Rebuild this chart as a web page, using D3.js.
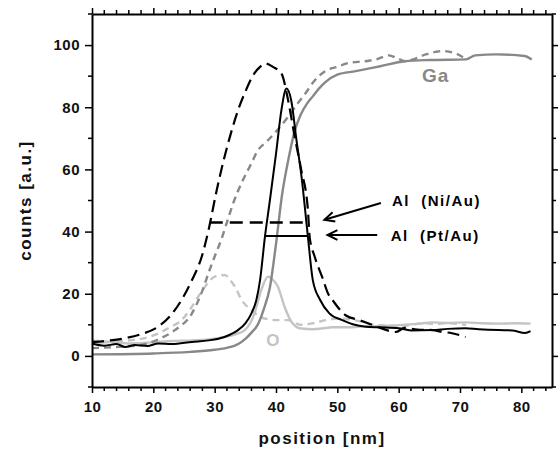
<!DOCTYPE html>
<html>
<head>
<meta charset="utf-8">
<script src="https://cdn.jsdelivr.net/npm/d3@7"></script>
<style>
  body { margin: 0; background: #fff; }
  text { font-family: "Liberation Sans", Arial, sans-serif; font-weight: bold; }
</style>
</head>
<body>
<div id="chart"></div>
<script>
// Data (position in nm, counts in a.u.)
var posGaPt = [10, 20, 26, 30, 32, 34, 35, 36, 37, 38, 39, 40, 41, 42, 43, 44, 45, 46, 47, 48, 50, 53, 57, 61, 65, 71, 72.5, 76, 80.5, 81.7];
var gaPt = [0.5, 0.8, 1.3, 2, 2.6, 4, 5.5, 7.5, 10, 15, 22, 36, 52, 63, 72, 77.5, 81, 83.5, 86, 88, 90.5, 91.6, 93.2, 94.8, 95.2, 95.4, 96.7, 97, 96.5, 95.4];

var posGaNi = [10, 15, 18, 21, 23.5, 26.3, 28, 29, 30, 31, 32, 33, 34.4, 36, 37, 38.5, 40.3, 42, 43.6, 45, 46, 48, 50, 52, 54.6, 56.5, 58.4, 60, 61.1, 62.5, 64.4, 66, 67.1, 69.3, 70.9];
var gaNi = [2.5, 3, 3.5, 5.5, 8.3, 13.7, 21, 26.7, 32, 37, 43, 49, 55.7, 62, 66, 69, 72.8, 77, 81.4, 85, 87.9, 91.6, 93, 94.3, 94.8, 95.5, 96.7, 95.5, 94.8, 95.5, 97, 97.8, 98.1, 97.3, 95.6];

var posAlNi = [10, 13, 15.4, 18, 20.8, 23.5, 26.3, 27.9, 29, 30.3, 31.6, 32.7, 33.8, 35, 36.5, 37.4, 38.2, 39.5, 40.9, 42, 43, 44.1, 45.2, 45.5, 46.3, 47.6, 48.5, 49.2, 51.4, 53.6, 55, 57, 59.5, 61, 63, 65.5, 67, 68.7, 70.9];
var alNi = [4.5, 5, 5.7, 7, 9.4, 14.7, 24.4, 32, 40.5, 53, 64, 72, 79, 85, 91, 93, 94.1, 93, 90.8, 82, 71, 60, 47, 38, 32, 25, 20, 18, 13, 11.5, 10.5, 9, 7.7, 9, 8.5, 8.3, 7.8, 7.3, 6.1];

var posAlPt = [10, 12, 14, 15.4, 17, 19, 20.8, 23, 26.3, 29, 31.6, 33, 33.8, 35, 36, 36.8, 37.4, 38.2, 39, 40, 40.9, 41.7, 42.5, 43.3, 44.2, 45.2, 46, 47.2, 48.7, 50.8, 52.5, 54.6, 57, 60, 62, 65.5, 68, 70.9, 73, 76.3, 78.5, 80.6, 81.5];
var alPt = [4, 3.3, 3.8, 2.9, 3.5, 3.2, 4, 3.8, 4.5, 5, 6.1, 7.3, 8.3, 10.5, 13.7, 18, 24.4, 38.4, 50, 65, 79.3, 86, 82, 70, 57, 38.4, 24.4, 18, 13.7, 11.5, 10.2, 9.4, 9.2, 8.9, 8.2, 8.3, 8.7, 8.9, 8.6, 8.3, 8.2, 7.4, 8];

var posOPt = [10, 13, 16, 20.8, 23, 26.3, 29, 31.6, 33.5, 34.9, 35.8, 36.5, 37.6, 38.7, 39.5, 40.3, 41.4, 42.5, 44.1, 46, 47.4, 49.2, 52, 54.6, 57, 60, 63, 65.5, 68, 70.9, 73.5, 76.3, 79, 81.5];
var oPt = [4, 4.5, 4, 4.5, 4.8, 5, 5.3, 6.1, 7, 8.3, 10.5, 13.7, 21.2, 25.5, 24.5, 22.3, 15.8, 11, 8.8, 8.6, 8.8, 9.2, 9.2, 9.6, 9.6, 9.9, 10.3, 10.8, 10.6, 10.8, 10.5, 10.4, 10.5, 10.4];

var posONi = [10, 13, 16, 18, 20.8, 22.5, 24.6, 26, 27.3, 28.7, 30, 31.7, 32.5, 33.3, 34.4, 36, 38.2, 40.3, 42, 44, 46, 48.1, 50, 52, 54, 56, 58, 60, 62, 64, 66, 68, 70, 71];
var oNi = [5, 4.6, 5, 5.5, 7.2, 9, 11.5, 15, 19, 23, 25.5, 26, 24.5, 22.3, 18, 14.7, 12, 11.5, 11.5, 10, 10.5, 11.5, 12, 11.8, 11, 10, 9.8, 9.5, 10, 10.5, 10.3, 10.5, 10.2, 10];

// width markers and annotations
var barNi = [[29.2, 42.9], [45.2, 42.9]];
var barPt = [[38.1, 38.6], [45.2, 38.6]];
var arrows = [
  { from: [57.1, 49.2], to: [47.9, 43.8] },
  { from: [56.5, 38.9], to: [48.4, 38.9] }
];
var notes = [
  { text: "Al\u00a0\u00a0(Ni/Au)", x: 58.9, y: 48.3, color: "#000", size: 15 },
  { text: "Al\u00a0\u00a0(Pt/Au)", x: 58.7, y: 37.0, color: "#000", size: 15 },
  { text: "Ga", x: 63.8, y: 88.0, color: "#888", size: 19 },
  { text: "O", x: 38.4, y: 3.3, color: "#c4c4c4", size: 17 }
];

var xTicks = [10, 20, 30, 40, 50, 60, 70, 80];
var yTicks = [0, 20, 40, 60, 80, 100];

var svgWidth = 558;
var svgHeight = 450;
var margin = { top: 14, right: 6, bottom: 63, left: 92 };
var width = svgWidth - margin.left - margin.right;
var height = svgHeight - margin.top - margin.bottom;

var svg = d3.select("#chart")
  .append("svg")
  .attr("width", svgWidth)
  .attr("height", svgHeight);

var chartGroup = svg.append("g")
  .attr("transform", `translate(${margin.left}, ${margin.top})`);

var xScale = d3.scaleLinear().domain([10, 85]).range([0, width]);
var yScale = d3.scaleLinear().domain([-10, 110]).range([height, 0]);

function zip(xs, ys) {
  return xs.map((x, i) => [x, ys[i]]);
}

var line = d3.line()
  .x(d => xScale(d[0]))
  .y(d => yScale(d[1]))
  .curve(d3.curveMonotoneX);

var series = [
  { data: zip(posOPt, oPt), color: "#c4c4c4", w: 2.4, dash: null },
  { data: zip(posONi, oNi), color: "#c4c4c4", w: 2.4, dash: "7,5" },
  { data: zip(posGaNi, gaNi), color: "#888", w: 2.4, dash: "7,5" },
  { data: zip(posGaPt, gaPt), color: "#888", w: 2.4, dash: null },
  { data: zip(posAlNi, alNi), color: "#000", w: 2.2, dash: "12,6" },
  { data: zip(posAlPt, alPt), color: "#000", w: 2, dash: null }
];

series.forEach(function(s) {
  chartGroup.append("path")
    .datum(s.data)
    .attr("fill", "none")
    .attr("stroke", s.color)
    .attr("stroke-width", s.w)
    .attr("stroke-dasharray", s.dash)
    .attr("d", line);
});

// width bars
chartGroup.append("path")
  .datum(barNi)
  .attr("fill", "none")
  .attr("stroke", "#000")
  .attr("stroke-width", 2.5)
  .attr("stroke-dasharray", "13,7")
  .attr("d", d3.line().x(d => xScale(d[0])).y(d => yScale(d[1])));

chartGroup.append("path")
  .datum(barPt)
  .attr("fill", "none")
  .attr("stroke", "#000")
  .attr("stroke-width", 2)
  .attr("d", d3.line().x(d => xScale(d[0])).y(d => yScale(d[1])));

// arrows
arrows.forEach(function(a) {
  var x1 = xScale(a.from[0]), y1 = yScale(a.from[1]);
  var x2 = xScale(a.to[0]), y2 = yScale(a.to[1]);
  var ang = Math.atan2(y2 - y1, x2 - x1);
  var len = 11, spread = 0.45;
  chartGroup.append("line")
    .attr("x1", x1).attr("y1", y1).attr("x2", x2).attr("y2", y2)
    .attr("stroke", "#000").attr("stroke-width", 2);
  chartGroup.append("path")
    .attr("fill", "none")
    .attr("stroke", "#000")
    .attr("stroke-width", 2)
    .attr("d", `M${x2 - len * Math.cos(ang - spread)},${y2 - len * Math.sin(ang - spread)}L${x2},${y2}L${x2 - len * Math.cos(ang + spread)},${y2 - len * Math.sin(ang + spread)}`);
});

notes.forEach(function(n) {
  chartGroup.append("text")
    .attr("x", xScale(n.x))
    .attr("y", yScale(n.y))
    .attr("fill", n.color)
    .attr("font-size", n.size)
    .attr("letter-spacing", n.size > 15 ? "1px" : "1.5px")
    .text(n.text);
});

// axes (ticks point outward on all four sides)
var bottomAxis = d3.axisBottom(xScale).tickValues(xTicks).tickSize(6).tickPadding(8).tickSizeOuter(0);
var topAxis = d3.axisTop(xScale).tickValues(xTicks).tickSize(6).tickFormat("").tickSizeOuter(0);
var leftAxis = d3.axisLeft(yScale).tickValues(yTicks).tickSize(7).tickPadding(5).tickSizeOuter(0);
var rightAxis = d3.axisRight(yScale).tickValues(yTicks).tickSize(6).tickFormat("").tickSizeOuter(0);

var minorX = d3.range(10, 85, 2).filter(v => v % 10 !== 0);
var minorY = d3.range(-10, 111, 20);

function styleAxis(g) {
  g.select(".domain").attr("stroke", "#000").attr("stroke-width", 2);
  g.selectAll(".tick line").attr("stroke", "#000").attr("stroke-width", 1.5);
  g.selectAll("text").attr("font-size", 15).attr("fill", "#111")
    .attr("font-family", "'Liberation Sans', Arial, sans-serif")
    .attr("font-weight", "bold").attr("letter-spacing", "0.5px");
}

var xAxisG = chartGroup.append("g").attr("transform", `translate(0, ${height})`).call(bottomAxis).call(styleAxis);
var xTopG = chartGroup.append("g").call(topAxis).call(styleAxis);
var yAxisG = chartGroup.append("g").call(leftAxis).call(styleAxis);
var yRightG = chartGroup.append("g").attr("transform", `translate(${width}, 0)`).call(rightAxis).call(styleAxis);

// minor ticks
function minor(g, vals, scale, horiz, dir) {
  g.selectAll(null).data(vals).enter().append("line")
    .attr("x1", d => horiz ? scale(d) : 0)
    .attr("x2", d => horiz ? scale(d) : dir * 4)
    .attr("y1", d => horiz ? 0 : scale(d))
    .attr("y2", d => horiz ? dir * 4 : scale(d))
    .attr("stroke", "#000").attr("stroke-width", 1.5);
}
minor(xAxisG, minorX, xScale, true, 1);
minor(xTopG, minorX, xScale, true, -1);
minor(yAxisG, minorY, yScale, false, -1);
minor(yRightG, minorY, yScale, false, 1);

// axis titles
chartGroup.append("text")
  .attr("x", width / 2)
  .attr("y", height + 57)
  .attr("text-anchor", "middle")
  .attr("font-size", 17)
  .attr("letter-spacing", "1.5px")
  .attr("fill", "#111")
  .text("position [nm]");

chartGroup.append("text")
  .attr("transform", "rotate(-90)")
  .attr("x", -height / 2)
  .attr("y", -61)
  .attr("text-anchor", "middle")
  .attr("font-size", 17)
  .attr("letter-spacing", "1.5px")
  .attr("fill", "#111")
  .text("counts [a.u.]");
</script>
</body>
</html>
